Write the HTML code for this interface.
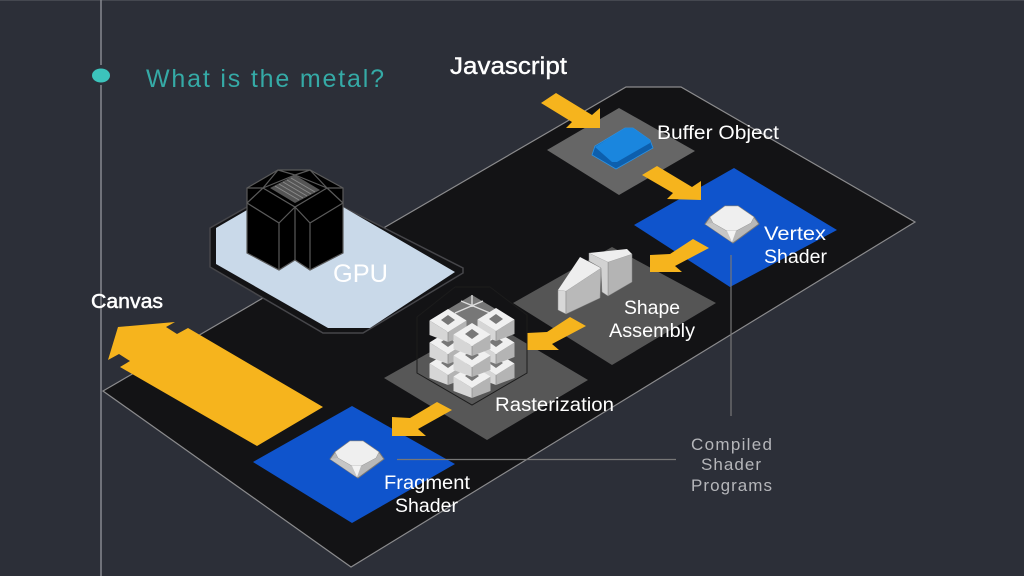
<!DOCTYPE html>
<html><head><meta charset="utf-8"><style>
html,body{margin:0;padding:0;background:#2c2f38;width:1024px;height:576px;overflow:hidden}
svg{display:block}
text{font-family:"Liberation Sans","DejaVu Sans",sans-serif;fill:#fff;text-anchor:start}
</style></head><body>
<svg width="1024" height="576" viewBox="0 0 1024 576" xmlns="http://www.w3.org/2000/svg">
<defs>
<g id="cube">
<polygon points="0,23 18.500,11.500 18.500,26 0,33" fill="#b4b4b4"/>
<polygon points="0,23 -18.500,11.500 -18.500,26 0,33" fill="#d6d6d6"/>
<polygon points="0,0 18.500,11.500 0,23 -18.500,11.500" fill="#f0f0f0"/>
<polygon points="0,6 7,11 0,16 -7,11" fill="#777"/>
<path d="M0,23V33" stroke="#8a8a8a" stroke-width=".7"/>
</g>
<g id="gem">
<polygon points="-27,18 -22,11 -7,0 6,0 22,11 27,18 1,37" fill="#b8b8b8" stroke="#777" stroke-width="1"/>
<polygon points="-27,18 -19,17 -5,25 0,36 1,37" fill="#c6c6c6"/>
<polygon points="-22,11 -7,0 6,0 22,11 19,17 4,25 -5,25 -19,17" fill="#efefef" stroke="#888" stroke-width=".4"/>
<polygon points="-5,25 4,25 0,36" fill="#f3f3f3"/>
</g>
</defs>
<rect width="1024" height="576" fill="#2c2f38"/>
<rect width="1024" height="1" fill="#454850"/>
<path d="M101 0V65M101 85V576" stroke="#8d8f96" stroke-width="1.4"/>
<ellipse cx="101" cy="75.500" rx="9" ry="7" fill="#3cc4bc"/>
<text x="146" y="87" font-size="25" textLength="238" lengthAdjust="spacing" style="fill:#35aaa6">What is the metal?</text>

<polygon points="103,391 626,87 681,87 915,222 351,567" fill="#131315" stroke="#8b8b8d" stroke-width="1.2"/>

<polygon points="210,228 247,207 343,207 463,268 463,273 363,333 323,333 210,267" fill="#131315" stroke="#46464a" stroke-width="1.5"/>
<polygon points="216,228 247,210 343,207 455,272 370,328 328,328 216,264" fill="#c9d9e9"/>
<text x="333" y="282" font-size="25" textLength="55" lengthAdjust="spacingAndGlyphs">GPU</text>

<polygon points="247,188 278,170 310,170 343,188 343,253 310,270 295,260 279,270 247,253" fill="#000" stroke="#5a5a5a" stroke-width="1.2"/>
<path d="M247,188 H263 L278,170 M343,188 H327 L310,170 M278,170 L295,175 L310,170 M263,188 L247,203 M327,188 L343,203 M263,188 L295,207 L327,188 M263,188 L295,175 L327,188 M247,203 L279,223 V270 M343,203 L310,223 V270 M295,207 V260 M295,207 L279,223 M295,207 L310,223" fill="none" stroke="#5a5a5a" stroke-width="1.2"/>
<polygon points="270,188 295,175 320,190 295,203" fill="#555"/>
<path d="M275,186 L299,200 M279,184 L303,198 M283,182 L307,196 M287,180 L311,194 M291,178 L315,192" stroke="#8a8a8a" stroke-width="1"/>

<polygon points="547,150 619,108 695,151 619,195" fill="#666"/>
<polygon points="634,225 734,168 837,230 730,287" fill="#0f54cc"/>
<polygon points="513,303 612,247 716,303 612,365" fill="#555"/>
<polygon points="384,378 487,320 588,380 487,440" fill="#575757"/>
<polygon points="253,462 352,406 455,464 352,523" fill="#0f54cc"/>

<polygon points="592,155 595,146 625,128 633,128 650,140 653,148 616,169" fill="#0d5fad" stroke="#2a93e6" stroke-width=".8"/>
<polygon points="595,147 625,128 633,128 650,140 650,143 617,162 612,162" fill="#1a86de"/>

<polygon points="541,103 556,93 592,115 600,108 600,128 566,128 572,122" fill="#f6b41d"/>
<polygon points="642,175 657,166 692,187 701,181 701,200 667,199 673,193" fill="#f6b41d"/>
<polygon points="709,248 693,239 670,254 650,255 650,272 682,272 675,266" fill="#f6b41d"/>
<polygon points="586,326 570,317 547,332 527,333 527,350 559,350 552,344" fill="#f6b41d"/>
<polygon points="452,410 437,402 410,418 392,417 392,436 426,436 418,429" fill="#f6b41d"/>
<polygon points="323,407 257,446 120,367 130,361 119,354 108,360 118,327 175,322 166,327 177,334 188,328" fill="#f6b41d"/>

<use href="#gem" x="732" y="206"/>
<use href="#gem" x="357" y="441"/>

<polygon points="558,290 566,291 566,314 558,310" fill="#d8d8d8" stroke="#888" stroke-width=".5"/>
<polygon points="566,291 601,268 600,298 566,314" fill="#b9b9b9" stroke="#888" stroke-width=".5"/>
<polygon points="558,290 580,257 601,268 566,291" fill="#eee"/>
<polygon points="608,262 632,254 632,282 608,296" fill="#b4b4b4" stroke="#888" stroke-width=".5"/>
<polygon points="589,253 608,262 608,296 602,292 601,268 589,261" fill="#d2d2d2" stroke="#888" stroke-width=".5"/>
<polygon points="589,253 627,249 632,254 608,262" fill="#eee"/>

<polygon points="455,287 490,287 527,315 527,373 472,405 417,373 417,317" fill="none" stroke="#1c1c1c" stroke-width="1"/>
<polygon points="472,295 514,320 472,345 430,320" fill="#777"/>
<path d="M461,301 L490,313 M483,301 L455,313 M472,295 V307" stroke="#ddd" stroke-width="1.4"/>
<use href="#cube" x="448" y="352"/><use href="#cube" x="496" y="352"/>
<use href="#cube" x="448" y="331"/><use href="#cube" x="496" y="331"/>
<use href="#cube" x="448" y="309"/><use href="#cube" x="496" y="308"/>
<use href="#cube" x="472" y="365"/>
<use href="#cube" x="472" y="344"/>
<use href="#cube" x="472" y="323"/>

<path d="M731 255V416M397 459.500H676" stroke="#777" stroke-width="1.2" fill="none"/>

<text x="450" y="74" font-size="24" textLength="117" lengthAdjust="spacingAndGlyphs" stroke="#fff" stroke-width=".4">Javascript</text>
<text x="657" y="139" font-size="19" textLength="122" lengthAdjust="spacingAndGlyphs">Buffer Object</text>
<text x="764" y="240" font-size="19" textLength="62" lengthAdjust="spacingAndGlyphs">Vertex</text>
<text x="764" y="263" font-size="19" textLength="63" lengthAdjust="spacingAndGlyphs">Shader</text>
<text x="624" y="314" font-size="19" textLength="56" lengthAdjust="spacingAndGlyphs">Shape</text>
<text x="609" y="337" font-size="19" textLength="86" lengthAdjust="spacingAndGlyphs">Assembly</text>
<text x="495" y="411" font-size="19" textLength="119" lengthAdjust="spacingAndGlyphs">Rasterization</text>
<text x="384" y="489" font-size="19" textLength="86" lengthAdjust="spacingAndGlyphs">Fragment</text>
<text x="395" y="512" font-size="19" textLength="63" lengthAdjust="spacingAndGlyphs">Shader</text>
<text x="91" y="308" font-size="20" textLength="72" lengthAdjust="spacingAndGlyphs" stroke="#fff" stroke-width=".5">Canvas</text>
<text x="691" y="450" font-size="17" textLength="81" lengthAdjust="spacing" style="fill:#b5b6ba">Compiled</text>
<text x="701" y="470" font-size="17" textLength="60" lengthAdjust="spacing" style="fill:#b5b6ba">Shader</text>
<text x="691" y="491" font-size="17" textLength="81" lengthAdjust="spacing" style="fill:#b5b6ba">Programs</text>
</svg>
</body></html>
